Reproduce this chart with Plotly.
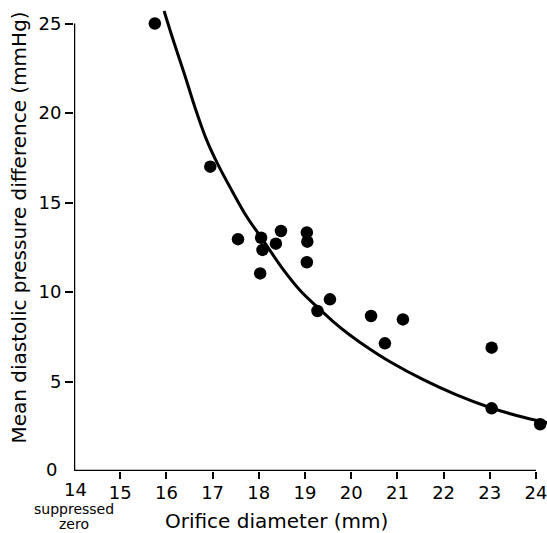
import plotly.graph_objects as go

# Observed data points (orifice diameter mm, mean diastolic pressure difference mmHg)
diam = [15.75, 16.95, 17.55, 18.05, 18.48, 19.04, 19.05, 18.37, 18.08, 19.04,
        18.03, 19.54, 19.27, 20.43, 21.12, 20.73, 23.04, 23.04, 24.09]
pressure = [25.0, 17.0, 12.95, 13.03, 13.41, 13.33, 12.81, 12.70, 12.35, 11.66,
            11.04, 9.59, 8.94, 8.66, 8.47, 7.13, 6.89, 3.50, 2.61]

# Fitted curve
curve_x = [15.95, 16.15, 16.40, 16.62, 16.87, 17.12, 17.41, 17.74, 18.05, 18.53,
           18.89, 19.25, 19.61, 19.97, 20.41, 20.84, 21.56, 22.28, 23.00, 23.73, 24.24]
curve_y = [25.7, 24.05, 22.1, 20.3, 18.5, 17.1, 15.7, 14.2, 13.05, 11.25,
           10.1, 9.2, 8.35, 7.6, 6.8, 6.1, 5.1, 4.25, 3.55, 3.0, 2.7]

x_ticks = [15, 16, 17, 18, 19, 20, 21, 22, 23, 24]
y_ticks = [5, 10, 15, 20, 25]

FONT = "DejaVu Sans"
W, H = 547, 533
L, R, T, B = 74, 0, 0, 62
pw, ph = W - L - R, H - T - B

def px(x):
    return (x - L) / pw

def py(y):
    return (H - B - y) / ph

fig = go.Figure()
fig.add_trace(go.Scatter(x=curve_x, y=curve_y, mode="lines",
                         line=dict(color="black", width=3, shape="spline", smoothing=1.0),
                         hoverinfo="skip", showlegend=False))
fig.add_trace(go.Scatter(x=diam, y=pressure, mode="markers",
                         marker=dict(color="black", size=12.5),
                         cliponaxis=False, showlegend=False))

fig.add_shape(type="line", x0=14, x1=14, y0=0, y1=25, xref="x", yref="y",
              line=dict(color="black", width=2.5))
fig.add_shape(type="line", x0=14, x1=24, y0=0, y1=0, xref="x", yref="y",
              line=dict(color="black", width=2.5))

ann_font = dict(family=FONT, size=18, color="black")
small_font = dict(family=FONT, size=14, color="black")
fig.add_annotation(text="Mean diastolic pressure difference (mmHg)", textangle=-90,
                   x=px(18.5), y=py(228), xref="paper", yref="paper",
                   showarrow=False, font=dict(family=FONT, size=20, color="black"),
                   xanchor="center", yanchor="middle")
fig.add_annotation(text="Orifice diameter (mm)",
                   x=px(276), y=py(521), xref="paper", yref="paper",
                   showarrow=False, font=dict(family=FONT, size=20, color="black"),
                   xanchor="center", yanchor="middle")
fig.add_annotation(text="suppressed", x=px(74), y=py(508.5), xref="paper", yref="paper",
                   showarrow=False, font=small_font, xanchor="center", yanchor="middle")
fig.add_annotation(text="zero", x=px(74), y=py(524), xref="paper", yref="paper",
                   showarrow=False, font=small_font, xanchor="center", yanchor="middle")
fig.add_annotation(text="0", x=px(51.5), y=py(469), xref="paper", yref="paper",
                   showarrow=False, font=ann_font, xanchor="center", yanchor="middle")
fig.add_annotation(text="14", x=px(75), y=py(489.5), xref="paper", yref="paper",
                   showarrow=False, font=ann_font, xanchor="center", yanchor="middle")

fig.update_layout(
    width=W, height=H,
    margin=dict(l=L, r=R, t=T, b=B),
    paper_bgcolor="white", plot_bgcolor="white",
    font=dict(family=FONT, color="black"),
    xaxis=dict(range=[14, 14 + pw / 46.2], tickvals=x_ticks, ticks="outside",
               ticklen=7, tickwidth=2, tickcolor="black", showline=False,
               ticklabelstandoff=-2, ticklabeloverflow="allow",
               showgrid=False, zeroline=False, tickfont=dict(family=FONT, size=18)),
    yaxis=dict(range=[0, ph / 17.9], tickvals=y_ticks, ticks="outside",
               ticklen=8, tickwidth=2, tickcolor="black", showline=False,
               showgrid=False, zeroline=False, tickfont=dict(family=FONT, size=18)),
)

fig.write_html("out.html")
